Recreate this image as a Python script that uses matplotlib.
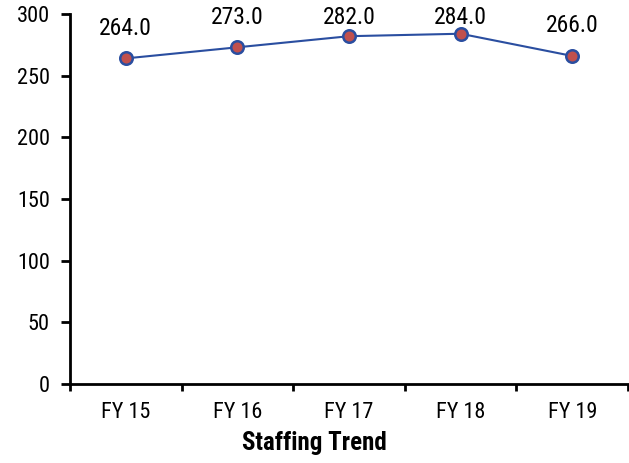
import matplotlib
matplotlib.use("Agg")
import matplotlib.pyplot as plt

categories = ["FY 15", "FY 16", "FY 17", "FY 18", "FY 19"]
staff = [264.0, 273.0, 282.0, 284.0, 266.0]
y_ticks = [0, 50, 100, 150, 200, 250, 300]
title = "Staffing Trend"

plt.rcParams["font.family"] = ["Roboto Condensed", "Archivo Narrow", "Liberation Sans", "DejaVu Sans"]

fig = plt.figure(figsize=(6.29, 4.63), dpi=100)
ax = fig.add_axes([70 / 629, 1 - 384 / 463, 558 / 629, 370 / 463])

x = list(range(len(categories)))
ax.plot(x, staff, color="#2a4ea0", lw=1.5, marker="o", ms=9,
        markerfacecolor="#c0504d", markeredgecolor="#2a4ea0", markeredgewidth=1.8,
        clip_on=False, zorder=3)

for xi, v in zip(x, staff):
    ax.text(xi, min(v + 24.5, 297), f"{v:.1f}", ha="center", va="center",
            fontsize=17, color="black")

ax.set_xlim(-0.5, len(categories) - 0.5)
ax.set_ylim(0, 300)
ax.set_yticks(y_ticks)
ax.set_xticks([i - 0.5 for i in range(len(categories) + 1)], minor=False)
ax.set_xticklabels([])
ax.set_xticks(x, minor=True)
ax.set_xticklabels(categories, minor=True)
ax.tick_params(axis="x", which="major", length=5, width=2, direction="out")
ax.tick_params(axis="x", which="minor", length=0, pad=13, labelsize=16)
ax.tick_params(axis="y", length=6.5, width=2, pad=8, labelsize=16)

for s in ["top", "right"]:
    ax.spines[s].set_visible(False)
ax.spines["left"].set_linewidth(2)
ax.spines["bottom"].set_linewidth(2)

fig.text(314 / 629, 1 - 443 / 463, title, ha="center", va="center",
         fontsize=18, fontweight="bold")

fig.savefig("out.png", dpi=100)
